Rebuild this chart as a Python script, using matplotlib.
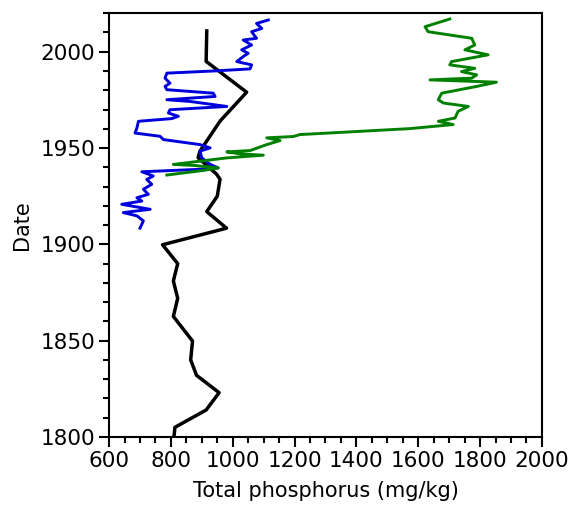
import matplotlib.pyplot as plt
from matplotlib.ticker import MultipleLocator

# core A (black), long record
black_p = [916, 914, 1045, 959, 894, 888, 948, 959, 950, 916, 980, 773, 822, 808,
           822, 808, 870, 864, 883, 956, 914, 813, 810]
black_yr = [2010.8, 1995, 1979, 1964, 1948.4, 1945, 1936.4, 1933.8, 1925, 1917,
            1908.4, 1899.8, 1890, 1881, 1872, 1862.6, 1849.8, 1840, 1832, 1823,
            1814, 1805, 1800]

# core B (blue)
blue_p = [1115, 1077, 1094, 1061, 1077, 1034, 1061, 1029, 1050, 1034, 1013, 1061,
          1056, 948, 787, 781, 797, 781, 787, 937, 943, 787, 862, 981, 797, 792,
          824, 803, 695, 690, 684, 765, 776, 894, 927, 894, 900, 927, 953, 884,
          706, 743, 722, 738, 711, 727, 690, 706, 641, 733, 646, 690, 711, 700]
blue_yr = [2016.5, 2014.7, 2012.1, 2010.4, 2007, 2006.1, 2003.5, 2001, 1999.2,
           1997.5, 1994.9, 1993.2, 1991.1, 1990.1, 1988.9, 1986.3, 1983.7, 1982,
           1980.3, 1978.5, 1976.8, 1975.1, 1974.2, 1971.6, 1969.9, 1968.2, 1966.5,
           1965.3, 1963.9, 1960.4, 1957.8, 1956.1, 1954.4, 1951.8, 1950.1, 1948.4,
           1944.9, 1941.5, 1939.7, 1938.9, 1937.7, 1935.5, 1933.7, 1931.2, 1928.6,
           1926, 1924.2, 1922.5, 1920.8, 1918.2, 1916.5, 1914.8, 1912.2, 1908.4]

# core C (green)
green_p = [1702, 1622, 1632, 1773, 1783, 1751, 1826, 1708, 1702, 1783, 1740, 1789,
           1773, 1638, 1853, 1789, 1676, 1665, 1681, 1762, 1729, 1719, 1665, 1713,
           1573, 1379, 1217, 1196, 1110, 1153, 1110, 1056, 981, 1024, 1099, 981,
           894, 808, 873, 953, 905, 787]
green_yr = [2017, 2013, 2010.4, 2007, 2003.5, 2001, 1998.4, 1994.9, 1993.2, 1991.4,
            1989.7, 1988, 1986.3, 1985.4, 1984.2, 1982, 1978.5, 1975.1, 1973.4,
            1971.6, 1969.1, 1965.6, 1963.9, 1962.2, 1960.1, 1958.4, 1957, 1956,
            1955.3, 1953.9, 1951.8, 1948.7, 1948, 1947, 1946.3, 1944.9, 1943.2,
            1941.5, 1941, 1939.7, 1938.4, 1936]

fig = plt.figure(figsize=(5.71, 5.09), dpi=100)
ax = fig.add_axes([0.191, 0.1415, 0.758, 0.8325])

ax.plot(black_p, black_yr, color='black', lw=2.5, solid_joinstyle='round')
ax.plot(blue_p, blue_yr, color='#0000dd', lw=2.1, solid_joinstyle='round')
ax.plot(green_p, green_yr, color='#008000', lw=2.1, solid_joinstyle='round')

ax.set_xlim(600, 2000)
ax.set_ylim(1800, 2020)
ax.xaxis.set_major_locator(MultipleLocator(200))
ax.xaxis.set_minor_locator(MultipleLocator(50))
ax.yaxis.set_major_locator(MultipleLocator(50))
ax.yaxis.set_minor_locator(MultipleLocator(10))
ax.tick_params(which='major', length=7, width=1.5, labelsize=15.5, direction='out', pad=3)
ax.tick_params(which='minor', length=4, width=1.5, direction='out')
for s in ax.spines.values():
    s.set_linewidth(1.5)

ax.set_xlabel('Total phosphorus (mg/kg)', fontsize=15, labelpad=7)
ax.set_ylabel('Date', fontsize=15, labelpad=6)

fig.savefig('out.png', dpi=100)
